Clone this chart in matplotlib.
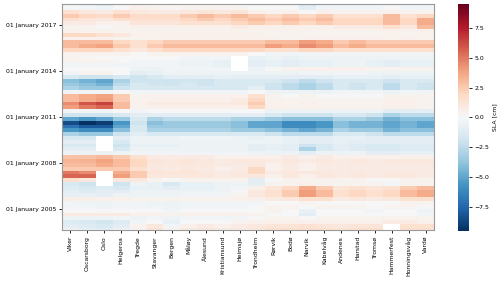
import numpy as np
import pandas as pd
import matplotlib
matplotlib.use("Agg")
import matplotlib.pyplot as plt
import matplotlib.dates as mdates
from datetime import datetime

nan = np.nan

stations = ["Viker", "Oscarsborg", "Oslo", "Helgeroa", "Tregde", "Stavanger", "Bergen",
            "Måløy", "Ålesund", "Kristiansund", "Heimsjø", "Trondheim", "Rørvik", "Bodø",
            "Narvik", "Kabelvåg", "Andenes", "Harstad", "Tromsø", "Hammerfest",
            "Honningsvåg", "Vardø"]

# quarterly SLA [cm], chronological from 2003Q3 to 2018Q2 (20 values per line)
viker = [-0.5, -1.0, -1.3, -0.5, 0.8, 0.0, -0.3, -0.3, 0.6, -0.8, -1.0, -1.3, -1.5, 1.5, 5.5, 5.0, 2.5, 3.0, 3.2, 2.8,
         -0.5, -1.0, -1.5, -1.0, -1.5, -3.0, -5.5, -7.0, -8.5, -5.0, -2.0, -0.3, 4.0, 4.5, 3.0, 3.0, -0.3, -3.0, -3.5, -4.0,
         -1.5, -0.3, 0.0, -0.3, 0.3, 0.3, 0.3, 2.0, 3.0, 3.0, 0.5, 2.0, 0.5, 0.3, 0.8, 1.5, 2.5, 1.5, -0.2, -0.3]
oscarsborg = [-0.8, -1.2, -1.5, -0.5, 0.8, 0.0, -0.3, -0.5, 0.6, -0.8, -1.2, -1.5, -2.0, 1.0, 5.5, 4.5, 2.5, 3.0, 3.3, 2.8,
              -0.5, -1.0, -1.5, -1.0, -1.5, -3.5, -6.0, -8.0, -9.5, -5.5, -2.0, -0.3, 5.0, 6.0, 3.5, 3.5, -0.3, -3.5, -4.0, -4.5,
              -2.0, 0.3, 0.0, -0.3, 0.3, 0.2, 0.3, 2.0, 3.5, 3.0, 0.5, 2.0, 0.3, 0.3, 0.8, 1.2, 2.0, 1.0, -0.3, -0.8]
oslo = [-1.0, -1.5, -1.8, -0.5, 0.8, 0.0, -0.5, -0.5, 0.5, -1.0, -1.0, -1.3, nan, nan, nan, nan, 2.5, 3.5, 3.8, 3.0,
        -0.5, nan, nan, nan, nan, -3.5, -6.0, -8.0, -9.0, -5.0, -2.0, -0.3, 5.5, 6.5, 4.0, 3.8, -0.3, -3.5, -4.5, -5.0,
        -2.0, 0.3, 0.0, -0.3, 0.3, 0.0, 0.3, 2.0, 3.8, 3.0, 0.5, 1.5, 0.3, 0.0, 0.5, 1.0, 1.8, 0.8, -0.5, -1.2]
helgeroa = [-0.5, -1.0, -1.2, -0.3, 0.8, 0.0, -0.3, -0.3, 0.5, -0.5, -1.0, -1.5, -2.0, 1.0, 4.0, 3.5, 2.5, 3.0, 3.0, 2.5,
            -0.5, -1.5, -2.0, -1.5, -1.0, -2.0, -4.0, -5.0, -5.5, -3.5, -1.5, 0.0, 3.0, 3.0, 2.5, 2.5, 0.0, -2.0, -2.5, -3.0,
            -1.5, 0.0, 0.0, -0.3, 0.0, 0.0, 0.3, 1.5, 2.5, 2.0, 0.3, 1.0, 0.3, 0.3, 0.5, 1.5, 2.5, 1.5, 0.0, -0.3]
tregde = [0.3, 0.3, -0.3, -0.5, 0.5, 0.0, -0.3, -0.3, 0.3, -0.5, -0.5, -0.8, -0.5, 1.0, 2.5, 2.5, 1.5, 2.0, 2.0, 1.5,
          -0.3, -0.5, -0.8, -0.5, -0.5, -1.0, -1.5, -1.5, -2.0, -1.5, -1.0, -0.3, 0.3, 0.5, 0.3, 0.3, -0.3, -1.5, -1.5, -2.0,
          -2.0, -1.0, -0.5, -0.3, -0.3, 0.0, 0.0, 1.0, 1.5, 1.5, 0.3, 0.5, 0.3, 0.5, 1.2, 1.5, 1.8, 1.0, 0.5, 0.5]
stavanger = [1.2, 1.0, 0.0, -0.3, 0.5, 0.0, -0.3, -0.5, 0.3, -0.5, -0.5, -0.8, -0.8, 0.3, 1.0, 1.2, 1.0, 1.0, 1.2, 0.8,
             -0.3, -0.5, -0.8, -0.5, -0.5, -1.5, -3.0, -3.5, -4.0, -3.0, -1.0, 0.0, 0.5, 0.8, 0.5, 0.5, -0.3, -1.5, -1.8, -2.0,
             -1.5, -0.8, -0.5, -0.3, -0.3, 0.0, 0.3, 1.5, 2.5, 2.0, 0.3, 0.5, 0.3, 0.5, 1.2, 1.5, 1.8, 0.8, 0.3, 0.2]
bergen = [0.3, -0.3, -0.8, -0.5, 0.3, -0.3, -0.5, -0.5, 0.3, -0.5, -0.5, -1.0, -1.5, 0.0, 1.0, 1.2, 0.8, 1.0, 1.0, 0.8,
          -0.3, -0.5, -0.8, -0.5, -0.5, -1.5, -3.0, -3.5, -3.5, -2.5, -1.0, 0.0, 0.5, 0.8, 0.5, 0.5, -0.3, -1.5, -2.0, -2.0,
          -1.0, -0.5, -0.3, -0.3, -0.3, 0.0, 0.3, 2.0, 3.0, 2.5, 0.5, 0.5, 0.3, 0.5, 1.2, 1.5, 1.8, 0.8, 0.2, 0.0]
maloy = [0.8, 0.5, 0.0, -0.3, 0.5, 0.0, -0.3, -0.3, 0.3, -0.3, -0.5, -0.8, -0.8, 0.3, 1.0, 1.2, 1.0, 1.0, 1.2, 0.8,
         -0.3, -0.5, -0.5, -0.5, -0.3, -1.5, -3.0, -3.5, -3.5, -2.5, -1.0, 0.0, 0.5, 0.8, 0.5, 0.5, -0.3, -1.5, -1.5, -1.8,
         -1.0, -0.5, -0.3, -0.5, -0.5, -0.3, 0.3, 2.0, 3.0, 2.5, 0.5, 0.5, 0.3, 0.5, 1.5, 2.0, 2.5, 1.0, 0.3, 0.2]
alesund = [1.0, 0.8, 0.0, -0.3, 0.5, 0.0, -0.3, -0.3, 0.3, -0.3, -0.5, -0.8, -0.8, 0.3, 1.0, 1.0, 0.8, 1.0, 1.0, 0.8,
           -0.3, -0.5, -0.5, -0.5, -0.3, -1.5, -3.0, -3.5, -3.5, -2.5, -1.0, 0.0, 0.5, 0.8, 0.5, 0.5, -0.3, -1.5, -2.0, -2.0,
           -1.0, -0.5, -0.3, -0.5, -0.5, -0.3, 0.3, 2.0, 3.0, 2.5, 0.5, 0.5, 0.3, 0.5, 1.5, 2.5, 3.0, 1.2, 0.3, 0.0]
kristiansund = [0.8, 0.5, 0.0, -0.3, 0.5, 0.0, -0.3, -0.3, 0.3, -0.3, -0.5, -0.5, -0.5, 0.3, 0.8, 0.8, 0.5, 0.8, 0.8, 0.5,
                -0.3, -0.5, -0.5, -0.5, -0.3, -1.5, -3.0, -3.5, -3.5, -2.5, -1.0, 0.0, 0.5, 0.8, 0.5, 0.5, -0.3, -1.5, -1.5, -1.5,
                -0.8, -0.5, -0.3, -0.8, -0.8, -0.3, 0.3, 2.0, 3.0, 2.5, 0.5, 0.5, 0.3, 0.5, 1.5, 2.0, 2.5, 1.0, 0.3, 0.0]
heimsjo = [0.8, 0.8, 0.3, -0.3, 0.5, 0.0, -0.3, -0.3, 0.5, 0.3, 0.0, -0.3, -0.5, 0.3, 1.0, 1.0, 0.8, 0.8, 1.0, 0.5,
           -0.3, -0.5, -0.5, -0.5, -0.5, -1.5, -3.5, -4.0, -4.0, -3.0, -1.0, 0.0, 0.5, 1.0, 0.8, 0.5, -0.3, -1.5, -1.5, -1.5,
           -1.0, -0.5, nan, nan, nan, nan, 0.3, 2.0, 3.0, 2.5, 0.5, 0.5, 0.3, 0.8, 2.0, 2.5, 3.0, 1.2, 0.3, 0.0]
trondheim = [1.0, 1.0, 0.5, 0.0, 0.3, 0.0, 0.0, -0.3, 0.5, 1.0, 1.0, 0.5, -1.0, -1.0, 1.0, 2.0, 2.0, 1.0, 1.0, 0.5,
             -0.5, -1.0, -1.0, -0.5, -0.8, -1.5, -3.5, -5.0, -5.0, -3.0, -1.0, 0.0, 2.0, 2.5, 2.0, 1.5, 0.0, -1.0, -1.5, -1.5,
             -1.0, -0.5, -0.5, -1.0, -1.0, -0.8, 0.0, 2.0, 3.0, 2.5, 0.5, 0.5, 0.3, 0.5, 2.5, 3.0, 2.5, 0.5, 0.0, 0.0]
rorvik = [1.5, 1.2, 0.5, 0.3, 0.0, 0.3, 0.3, 0.0, 0.8, 1.5, 1.5, 1.2, 0.3, 0.0, 0.5, 0.8, 0.5, 0.5, 0.8, 0.5,
          -0.5, -0.8, -0.8, -0.5, -0.5, -2.0, -4.0, -5.0, -5.0, -3.5, -1.5, -0.5, 0.5, 0.5, 0.3, 0.3, -0.5, -2.0, -2.0, -1.5,
          -1.0, -0.5, 0.0, -0.8, -0.8, -0.5, -0.3, 1.5, 4.0, 3.0, 0.5, 0.3, 0.3, 0.5, 2.0, 2.5, 2.0, 0.3, 0.0, -0.3]
bodo = [1.5, 1.2, 0.5, 0.3, 0.0, 0.0, 0.3, 0.0, 1.0, 2.5, 2.5, 2.0, 0.3, 0.3, 1.0, 1.0, 0.8, 0.8, 1.0, 0.8,
        -0.5, -1.0, -1.0, -0.8, -0.8, -2.5, -4.5, -6.0, -6.0, -4.0, -2.0, -0.5, 0.3, 0.3, 0.3, 0.0, -0.5, -2.5, -2.5, -2.0,
        -1.0, -0.5, 0.3, -1.0, -1.0, -0.8, -0.3, 1.5, 3.5, 3.0, 0.3, 0.3, 0.3, 0.5, 2.5, 3.0, 2.5, 0.5, 0.0, -0.3]
narvik = [1.5, 1.5, 0.5, 0.0, -1.0, -0.8, 0.0, 0.3, 1.5, 4.0, 4.0, 3.5, 0.5, 0.3, 0.5, 1.0, 0.5, 0.5, 0.8, 0.5,
          -1.0, -3.0, -2.0, -1.0, -1.0, -2.5, -5.0, -6.0, -6.0, -4.0, -2.0, -0.5, 0.5, 0.5, 0.3, 0.3, -0.5, -3.0, -3.0, -2.5,
          -1.0, -0.3, 0.5, -0.8, -0.8, -0.5, -0.3, 2.0, 4.5, 4.0, 0.5, 0.3, 0.3, 0.5, 2.0, 2.5, 2.0, 0.0, -1.0, -1.5]
kabelvag = [1.5, 1.2, 0.5, 0.3, 0.0, 0.0, 0.3, 0.0, 1.5, 3.0, 3.0, 2.5, 0.3, 0.3, 1.0, 1.0, 0.8, 0.8, 1.0, 0.8,
            -0.5, -1.5, -1.5, -1.0, -1.0, -2.5, -4.5, -5.5, -5.5, -4.0, -2.0, -0.5, 0.3, 0.3, 0.3, 0.0, -0.5, -2.5, -2.5, -2.0,
            -1.0, -0.3, 0.5, -0.8, -0.8, -0.5, -0.3, 2.0, 4.0, 3.5, 0.5, 0.3, 0.3, 0.5, 2.5, 3.0, 2.5, 0.5, -0.3, -0.5]
andenes = [1.2, 1.0, 0.5, 0.3, 0.0, 0.0, 0.3, 0.0, 0.8, 1.5, 1.5, 1.2, 0.3, 0.3, 0.8, 0.8, 0.8, 0.8, 0.8, 0.5,
           -0.5, -1.0, -1.0, -0.8, -0.8, -1.5, -3.0, -4.0, -4.0, -3.0, -1.5, -0.5, 0.3, 0.3, 0.3, 0.0, -0.3, -1.5, -1.5, -1.5,
           -0.8, -0.3, 0.5, -0.5, -0.5, -0.5, -0.3, 1.5, 3.0, 2.5, 0.5, 0.3, 0.3, 0.8, 2.0, 2.0, 1.5, 0.3, -0.3, -0.3]
harstad = [1.5, 1.2, 0.5, 0.3, 0.0, 0.0, 0.3, 0.0, 1.0, 2.0, 2.0, 1.5, 0.3, 0.3, 1.0, 1.0, 0.8, 0.8, 1.0, 0.5,
           -0.5, -1.2, -1.2, -1.0, -0.8, -1.5, -3.5, -4.5, -4.5, -3.0, -1.5, -0.5, 0.3, 0.3, 0.3, 0.0, -0.3, -2.0, -2.0, -1.5,
           -0.8, -0.3, 0.5, -0.5, -0.5, -0.5, -0.3, 1.5, 3.5, 3.0, 0.5, 0.3, 0.3, 0.8, 2.0, 2.0, 1.5, 0.3, -0.3, -0.3]
tromso = [1.5, 1.2, 0.5, 0.3, 0.0, -0.3, 0.0, 0.0, 0.8, 1.5, 1.5, 1.2, 0.3, 0.0, 0.8, 0.8, 0.8, 0.8, 0.8, 0.5,
          -1.0, -1.5, -1.5, -1.0, -1.0, -2.0, -3.5, -4.5, -4.5, -3.5, -2.0, -0.5, 0.3, 0.3, 0.3, 0.0, -0.3, -1.5, -1.5, -1.5,
          -0.8, -0.5, 0.3, -0.8, -0.8, -0.5, -0.3, 1.5, 3.0, 2.5, 0.5, 0.3, 0.3, 0.8, 2.0, 2.0, 1.5, 0.3, -0.3, -0.3]
hammerfest = [nan, nan, 0.8, 0.3, 0.0, 0.0, 0.3, 0.0, 1.0, 2.0, 2.0, 1.5, -0.3, 0.0, 1.0, 1.0, 0.8, 0.8, 1.0, 0.5,
              -1.0, -1.5, -1.5, -1.0, -1.0, -2.5, -4.5, -5.0, -5.0, -4.5, -3.0, -1.0, 0.5, 0.5, 0.5, 0.3, -0.5, -2.5, -2.5, -2.0,
              -1.0, -0.5, 0.3, -1.0, -1.0, -0.5, -0.3, 1.5, 3.0, 2.5, 0.5, 0.3, 0.5, 1.5, 3.0, 3.0, 3.0, 0.5, 0.0, 0.0]
honningsvag = [1.5, 1.5, 0.8, 0.3, 0.0, 0.0, 0.3, 0.3, 1.5, 3.0, 3.0, 2.5, 0.3, 0.3, 1.0, 1.0, 0.8, 0.8, 1.0, 0.5,
               -0.8, -1.2, -1.2, -1.0, -1.0, -2.5, -4.0, -4.5, -4.5, -4.0, -2.5, -1.0, 0.5, 0.5, 0.5, 0.3, -0.3, -1.5, -1.5, -1.5,
               -0.8, -0.5, 0.3, -0.8, -0.8, -0.5, -0.3, 1.5, 3.0, 2.5, 0.5, 0.3, 0.3, 1.0, 2.0, 2.0, 1.5, 0.3, -0.3, -0.5]
vardo = [1.5, 1.5, 0.5, 0.3, -0.3, -0.5, 0.0, 0.3, 1.5, 3.5, 3.5, 3.0, 0.3, 0.3, 0.8, 0.8, 0.8, 0.8, 1.0, 0.5,
         -0.8, -1.2, -1.2, -1.0, -1.0, -2.5, -4.0, -5.0, -5.0, -4.0, -2.5, -1.0, 0.3, 0.3, 0.3, 0.3, -0.3, -2.0, -2.0, -1.5,
         -0.8, -0.5, 0.3, -0.8, -0.8, -0.5, -0.3, 1.5, 3.0, 2.5, 0.5, 0.3, 0.5, 3.0, 3.5, 3.5, 2.0, 0.3, -0.3, -0.3]

columns = [viker, oscarsborg, oslo, helgeroa, tregde, stavanger, bergen, maloy, alesund,
           kristiansund, heimsjo, trondheim, rorvik, bodo, narvik, kabelvag, andenes, harstad,
           tromso, hammerfest, honningsvag, vardo]
tick_years = [2005, 2008, 2011, 2014, 2017]

Z = np.ma.masked_invalid(np.array(columns, dtype=float).T)
t_edges = mdates.date2num(pd.date_range("2003-07-01", "2018-07-01", freq="QS").to_pydatetime())
x_edges = np.arange(len(stations) + 1)

FS = 4.4
fig = plt.figure(figsize=(5.0, 2.81), dpi=100)
ax = fig.add_axes([0.124, 0.18, 0.744, 0.806])
cax = fig.add_axes([0.916, 0.178, 0.022, 0.808])

mesh = ax.pcolormesh(x_edges, t_edges, Z, cmap="RdBu_r", vmin=-9.5, vmax=9.5, shading="flat")
ax.set_ylim(mdates.date2num(datetime(2003, 8, 1)), mdates.date2num(datetime(2018, 5, 22)))
ax.set_xlim(0, len(stations))
ax.set_xticks(np.arange(len(stations)) + 0.5)
ax.set_xticklabels(stations, rotation=90, fontsize=FS)
ax.set_yticks([mdates.date2num(datetime(y, 1, 1)) for y in tick_years])
ax.yaxis.set_major_formatter(mdates.DateFormatter("%d %B %Y"))
ax.tick_params(axis="both", labelsize=FS, length=2.5, width=0.6, pad=1.5)
for s in ax.spines.values():
    s.set_color("#999999")
    s.set_linewidth(0.8)

cb = fig.colorbar(mesh, cax=cax, ticks=[-7.5, -5.0, -2.5, 0.0, 2.5, 5.0, 7.5])
cb.outline.set_linewidth(0)
cb.ax.tick_params(labelsize=FS, length=2.5, width=0.6, pad=1.5)
cb.set_label("SLA [cm]", fontsize=FS, labelpad=2)

fig.savefig("out.png", dpi=100)
